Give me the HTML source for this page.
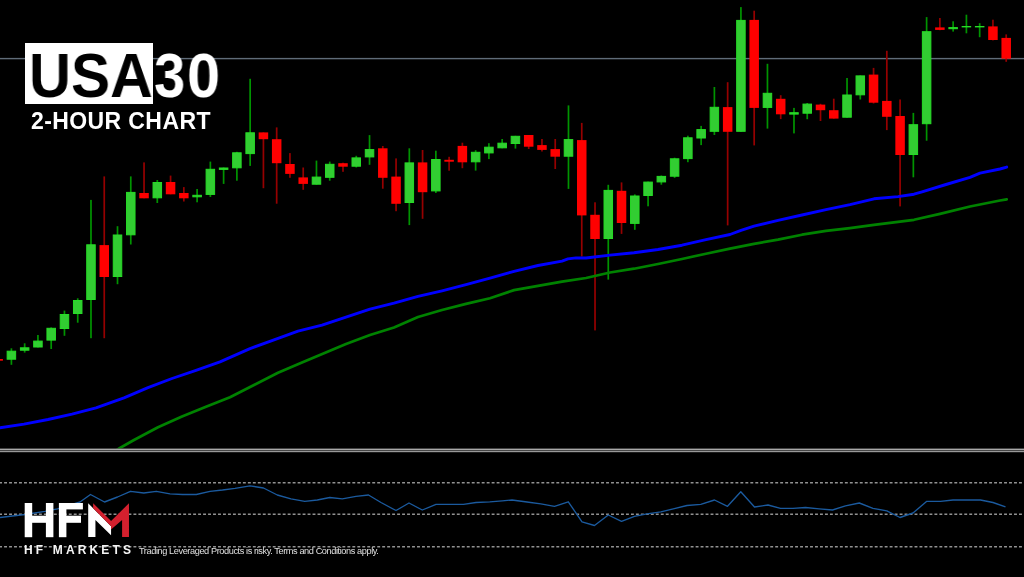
<!DOCTYPE html>
<html><head><meta charset="utf-8"><style>
html,body{margin:0;padding:0;background:#000;}
body{width:1024px;height:577px;position:relative;overflow:hidden;font-family:"Liberation Sans",sans-serif;}
.t{position:absolute;white-space:nowrap;font-weight:bold;line-height:1;will-change:transform;}
</style></head><body>
<svg width="1024" height="577" viewBox="0 0 1024 577" style="position:absolute;left:0;top:0">
<defs><clipPath id="main"><rect x="0" y="0" width="1024" height="448.5"/></clipPath></defs>
<rect x="0" y="57.9" width="1024" height="1.4" fill="#5f6b78"/>
<g clip-path="url(#main)">
<rect x="-2.71" y="357.5" width="1.7" height="4.5" fill="#960000"/>
<rect x="10.55" y="348.3" width="1.7" height="16.5" fill="#009400"/>
<rect x="23.81" y="343.3" width="1.7" height="9.3" fill="#009400"/>
<rect x="37.08" y="335.0" width="1.7" height="12.5" fill="#009400"/>
<rect x="50.34" y="327.4" width="1.7" height="21.6" fill="#009400"/>
<rect x="63.61" y="310.6" width="1.7" height="25.2" fill="#009400"/>
<rect x="76.87" y="298.3" width="1.7" height="24.4" fill="#009400"/>
<rect x="90.13" y="199.9" width="1.7" height="138.3" fill="#009400"/>
<rect x="103.40" y="176.4" width="1.7" height="161.8" fill="#960000"/>
<rect x="116.66" y="226.2" width="1.7" height="58.0" fill="#009400"/>
<rect x="129.93" y="176.4" width="1.7" height="68.1" fill="#009400"/>
<rect x="143.19" y="162.4" width="1.7" height="35.9" fill="#960000"/>
<rect x="156.45" y="180.0" width="1.7" height="23.0" fill="#009400"/>
<rect x="169.72" y="175.6" width="1.7" height="18.7" fill="#960000"/>
<rect x="182.98" y="187.1" width="1.7" height="14.4" fill="#960000"/>
<rect x="196.25" y="189.0" width="1.7" height="13.3" fill="#009400"/>
<rect x="209.51" y="161.6" width="1.7" height="35.4" fill="#009400"/>
<rect x="222.77" y="167.5" width="1.7" height="16.4" fill="#009400"/>
<rect x="236.04" y="151.8" width="1.7" height="28.9" fill="#009400"/>
<rect x="249.30" y="78.8" width="1.7" height="87.1" fill="#009400"/>
<rect x="262.57" y="132.4" width="1.7" height="55.8" fill="#960000"/>
<rect x="275.83" y="127.4" width="1.7" height="76.3" fill="#960000"/>
<rect x="289.09" y="153.1" width="1.7" height="24.7" fill="#960000"/>
<rect x="302.36" y="167.5" width="1.7" height="22.3" fill="#960000"/>
<rect x="315.62" y="160.6" width="1.7" height="24.1" fill="#009400"/>
<rect x="328.89" y="161.6" width="1.7" height="19.1" fill="#009400"/>
<rect x="342.15" y="162.7" width="1.7" height="9.1" fill="#960000"/>
<rect x="355.41" y="155.8" width="1.7" height="11.7" fill="#009400"/>
<rect x="368.68" y="135.1" width="1.7" height="29.7" fill="#009400"/>
<rect x="381.94" y="146.0" width="1.7" height="42.7" fill="#960000"/>
<rect x="395.21" y="158.4" width="1.7" height="52.8" fill="#960000"/>
<rect x="408.47" y="148.3" width="1.7" height="76.8" fill="#009400"/>
<rect x="421.73" y="150.0" width="1.7" height="68.8" fill="#960000"/>
<rect x="435.00" y="150.7" width="1.7" height="42.3" fill="#009400"/>
<rect x="448.26" y="156.8" width="1.7" height="13.9" fill="#960000"/>
<rect x="461.53" y="142.7" width="1.7" height="25.5" fill="#960000"/>
<rect x="474.79" y="150.2" width="1.7" height="20.4" fill="#009400"/>
<rect x="488.05" y="143.2" width="1.7" height="15.9" fill="#009400"/>
<rect x="501.32" y="139.0" width="1.7" height="9.3" fill="#009400"/>
<rect x="514.58" y="135.8" width="1.7" height="12.8" fill="#009400"/>
<rect x="527.85" y="135.0" width="1.7" height="14.0" fill="#960000"/>
<rect x="541.11" y="139.0" width="1.7" height="12.5" fill="#960000"/>
<rect x="554.37" y="139.0" width="1.7" height="30.0" fill="#960000"/>
<rect x="567.64" y="105.4" width="1.7" height="83.5" fill="#009400"/>
<rect x="580.90" y="122.9" width="1.7" height="133.6" fill="#960000"/>
<rect x="594.17" y="202.3" width="1.7" height="128.1" fill="#960000"/>
<rect x="607.43" y="184.8" width="1.7" height="94.8" fill="#009400"/>
<rect x="620.69" y="182.4" width="1.7" height="51.5" fill="#960000"/>
<rect x="633.96" y="194.4" width="1.7" height="35.4" fill="#009400"/>
<rect x="647.22" y="181.6" width="1.7" height="24.7" fill="#009400"/>
<rect x="660.49" y="175.5" width="1.7" height="9.2" fill="#009400"/>
<rect x="673.75" y="157.7" width="1.7" height="20.2" fill="#009400"/>
<rect x="687.01" y="135.7" width="1.7" height="26.5" fill="#009400"/>
<rect x="700.28" y="125.9" width="1.7" height="19.2" fill="#009400"/>
<rect x="713.54" y="87.0" width="1.7" height="48.0" fill="#009400"/>
<rect x="726.81" y="82.2" width="1.7" height="143.2" fill="#960000"/>
<rect x="740.07" y="7.1" width="1.7" height="124.7" fill="#009400"/>
<rect x="753.33" y="10.7" width="1.7" height="134.7" fill="#960000"/>
<rect x="766.60" y="63.8" width="1.7" height="64.8" fill="#009400"/>
<rect x="779.86" y="95.2" width="1.7" height="23.9" fill="#960000"/>
<rect x="793.13" y="107.9" width="1.7" height="25.5" fill="#009400"/>
<rect x="806.39" y="103.0" width="1.7" height="16.2" fill="#009400"/>
<rect x="819.65" y="103.8" width="1.7" height="17.2" fill="#960000"/>
<rect x="832.92" y="98.7" width="1.7" height="19.9" fill="#960000"/>
<rect x="846.18" y="78.0" width="1.7" height="39.7" fill="#009400"/>
<rect x="859.45" y="75.4" width="1.7" height="24.1" fill="#009400"/>
<rect x="872.71" y="67.9" width="1.7" height="35.6" fill="#960000"/>
<rect x="885.97" y="50.8" width="1.7" height="79.3" fill="#960000"/>
<rect x="899.24" y="99.5" width="1.7" height="106.9" fill="#960000"/>
<rect x="912.50" y="112.9" width="1.7" height="64.4" fill="#009400"/>
<rect x="925.77" y="17.1" width="1.7" height="123.6" fill="#009400"/>
<rect x="939.03" y="18.0" width="1.7" height="12.2" fill="#960000"/>
<rect x="952.29" y="21.3" width="1.7" height="10.3" fill="#009400"/>
<rect x="965.56" y="14.7" width="1.7" height="18.6" fill="#009400"/>
<rect x="978.82" y="23.2" width="1.7" height="14.0" fill="#009400"/>
<rect x="992.09" y="19.7" width="1.7" height="20.7" fill="#960000"/>
<rect x="1005.35" y="34.4" width="1.7" height="27.4" fill="#960000"/>
<rect x="-6.61" y="359.0" width="9.5" height="1.7" fill="#ff0000"/>
<rect x="7.15" y="351.2" width="8.5" height="8.0" fill="#32cd32" stroke="#26dc26" stroke-width="1"/>
<rect x="20.41" y="347.8" width="8.5" height="2.4" fill="#32cd32" stroke="#26dc26" stroke-width="1"/>
<rect x="33.68" y="341.1" width="8.5" height="5.9" fill="#32cd32" stroke="#26dc26" stroke-width="1"/>
<rect x="46.94" y="328.3" width="8.5" height="11.8" fill="#32cd32" stroke="#26dc26" stroke-width="1"/>
<rect x="60.21" y="314.5" width="8.5" height="14.0" fill="#32cd32" stroke="#26dc26" stroke-width="1"/>
<rect x="73.47" y="300.5" width="8.5" height="13.0" fill="#32cd32" stroke="#26dc26" stroke-width="1"/>
<rect x="86.73" y="244.8" width="8.5" height="54.7" fill="#32cd32" stroke="#26dc26" stroke-width="1"/>
<rect x="99.50" y="245.1" width="9.5" height="31.9" fill="#ff0000"/>
<rect x="113.26" y="235.0" width="8.5" height="41.5" fill="#32cd32" stroke="#26dc26" stroke-width="1"/>
<rect x="126.53" y="192.4" width="8.5" height="42.4" fill="#32cd32" stroke="#26dc26" stroke-width="1"/>
<rect x="139.29" y="193.0" width="9.5" height="5.3" fill="#ff0000"/>
<rect x="153.05" y="182.5" width="8.5" height="15.3" fill="#32cd32" stroke="#26dc26" stroke-width="1"/>
<rect x="165.82" y="182.0" width="9.5" height="12.3" fill="#ff0000"/>
<rect x="179.08" y="193.0" width="9.5" height="5.3" fill="#ff0000"/>
<rect x="192.85" y="195.3" width="8.5" height="1.5" fill="#32cd32" stroke="#26dc26" stroke-width="1"/>
<rect x="206.11" y="169.3" width="8.5" height="25.1" fill="#32cd32" stroke="#26dc26" stroke-width="1"/>
<rect x="219.37" y="168.0" width="8.5" height="1.4" fill="#32cd32" stroke="#26dc26" stroke-width="1"/>
<rect x="232.64" y="152.8" width="8.5" height="15.0" fill="#32cd32" stroke="#26dc26" stroke-width="1"/>
<rect x="245.90" y="132.8" width="8.5" height="20.8" fill="#32cd32" stroke="#26dc26" stroke-width="1"/>
<rect x="258.67" y="132.4" width="9.5" height="6.8" fill="#ff0000"/>
<rect x="271.93" y="139.2" width="9.5" height="24.0" fill="#ff0000"/>
<rect x="285.19" y="164.0" width="9.5" height="9.9" fill="#ff0000"/>
<rect x="298.46" y="177.4" width="9.5" height="6.5" fill="#ff0000"/>
<rect x="312.22" y="177.1" width="8.5" height="7.1" fill="#32cd32" stroke="#26dc26" stroke-width="1"/>
<rect x="325.49" y="164.3" width="8.5" height="13.0" fill="#32cd32" stroke="#26dc26" stroke-width="1"/>
<rect x="338.25" y="163.2" width="9.5" height="3.5" fill="#ff0000"/>
<rect x="352.01" y="157.9" width="8.5" height="8.3" fill="#32cd32" stroke="#26dc26" stroke-width="1"/>
<rect x="365.28" y="149.6" width="8.5" height="7.3" fill="#32cd32" stroke="#26dc26" stroke-width="1"/>
<rect x="378.04" y="148.3" width="9.5" height="29.5" fill="#ff0000"/>
<rect x="391.31" y="176.6" width="9.5" height="27.2" fill="#ff0000"/>
<rect x="405.07" y="162.9" width="8.5" height="39.6" fill="#32cd32" stroke="#26dc26" stroke-width="1"/>
<rect x="417.83" y="162.4" width="9.5" height="29.8" fill="#ff0000"/>
<rect x="431.60" y="159.5" width="8.5" height="31.4" fill="#32cd32" stroke="#26dc26" stroke-width="1"/>
<rect x="444.36" y="159.8" width="9.5" height="1.9" fill="#ff0000"/>
<rect x="457.63" y="145.9" width="9.5" height="16.4" fill="#ff0000"/>
<rect x="471.39" y="152.3" width="8.5" height="9.5" fill="#32cd32" stroke="#26dc26" stroke-width="1"/>
<rect x="484.65" y="147.2" width="8.5" height="5.7" fill="#32cd32" stroke="#26dc26" stroke-width="1"/>
<rect x="497.92" y="143.2" width="8.5" height="4.6" fill="#32cd32" stroke="#26dc26" stroke-width="1"/>
<rect x="511.18" y="136.3" width="8.5" height="7.2" fill="#32cd32" stroke="#26dc26" stroke-width="1"/>
<rect x="523.95" y="135.0" width="9.5" height="11.7" fill="#ff0000"/>
<rect x="537.21" y="145.1" width="9.5" height="4.8" fill="#ff0000"/>
<rect x="550.47" y="149.1" width="9.5" height="7.6" fill="#ff0000"/>
<rect x="564.24" y="139.6" width="8.5" height="16.6" fill="#32cd32" stroke="#26dc26" stroke-width="1"/>
<rect x="577.00" y="140.1" width="9.5" height="75.3" fill="#ff0000"/>
<rect x="590.27" y="214.8" width="9.5" height="24.2" fill="#ff0000"/>
<rect x="604.03" y="190.4" width="8.5" height="48.1" fill="#32cd32" stroke="#26dc26" stroke-width="1"/>
<rect x="616.79" y="190.8" width="9.5" height="32.2" fill="#ff0000"/>
<rect x="630.56" y="196.0" width="8.5" height="27.4" fill="#32cd32" stroke="#26dc26" stroke-width="1"/>
<rect x="643.82" y="182.1" width="8.5" height="13.4" fill="#32cd32" stroke="#26dc26" stroke-width="1"/>
<rect x="657.09" y="176.4" width="8.5" height="5.5" fill="#32cd32" stroke="#26dc26" stroke-width="1"/>
<rect x="670.35" y="158.8" width="8.5" height="17.4" fill="#32cd32" stroke="#26dc26" stroke-width="1"/>
<rect x="683.61" y="137.8" width="8.5" height="20.8" fill="#32cd32" stroke="#26dc26" stroke-width="1"/>
<rect x="696.88" y="129.6" width="8.5" height="8.4" fill="#32cd32" stroke="#26dc26" stroke-width="1"/>
<rect x="710.14" y="107.3" width="8.5" height="24.0" fill="#32cd32" stroke="#26dc26" stroke-width="1"/>
<rect x="722.91" y="107.1" width="9.5" height="24.7" fill="#ff0000"/>
<rect x="736.67" y="20.4" width="8.5" height="110.9" fill="#32cd32" stroke="#26dc26" stroke-width="1"/>
<rect x="749.43" y="19.9" width="9.5" height="88.0" fill="#ff0000"/>
<rect x="763.20" y="93.3" width="8.5" height="14.1" fill="#32cd32" stroke="#26dc26" stroke-width="1"/>
<rect x="775.96" y="98.8" width="9.5" height="15.5" fill="#ff0000"/>
<rect x="789.73" y="112.7" width="8.5" height="1.4" fill="#32cd32" stroke="#26dc26" stroke-width="1"/>
<rect x="802.99" y="104.1" width="8.5" height="9.1" fill="#32cd32" stroke="#26dc26" stroke-width="1"/>
<rect x="815.75" y="104.6" width="9.5" height="5.6" fill="#ff0000"/>
<rect x="829.02" y="110.2" width="9.5" height="8.4" fill="#ff0000"/>
<rect x="842.78" y="95.0" width="8.5" height="22.2" fill="#32cd32" stroke="#26dc26" stroke-width="1"/>
<rect x="856.05" y="75.9" width="8.5" height="18.9" fill="#32cd32" stroke="#26dc26" stroke-width="1"/>
<rect x="868.81" y="74.6" width="9.5" height="28.1" fill="#ff0000"/>
<rect x="882.07" y="100.9" width="9.5" height="15.9" fill="#ff0000"/>
<rect x="895.34" y="116.0" width="9.5" height="39.0" fill="#ff0000"/>
<rect x="909.10" y="124.7" width="8.5" height="29.8" fill="#32cd32" stroke="#26dc26" stroke-width="1"/>
<rect x="922.37" y="31.7" width="8.5" height="92.0" fill="#32cd32" stroke="#26dc26" stroke-width="1"/>
<rect x="935.13" y="27.4" width="9.5" height="2.5" fill="#ff0000"/>
<rect x="948.89" y="27.6" width="8.5" height="1.1" fill="#32cd32" stroke="#26dc26" stroke-width="1"/>
<rect x="962.16" y="26.5" width="8.5" height="0.4" fill="#32cd32" stroke="#26dc26" stroke-width="1"/>
<rect x="975.42" y="26.5" width="8.5" height="0.4" fill="#32cd32" stroke="#26dc26" stroke-width="1"/>
<rect x="988.19" y="26.4" width="9.5" height="13.6" fill="#ff0000"/>
<rect x="1001.45" y="37.9" width="9.5" height="20.8" fill="#ff0000"/>
<polyline points="112.0,453.0 120.0,448.0 134.0,440.0 158.0,427.3 182.0,416.6 206.0,406.8 230.0,397.2 254.0,385.0 278.0,372.8 302.0,362.5 346.0,343.9 370.0,335.0 394.0,327.5 418.0,317.0 442.0,310.0 466.0,303.9 490.0,298.3 514.0,290.1 538.0,285.9 562.0,281.7 586.0,278.0 610.0,272.5 634.0,268.7 658.0,264.0 682.0,259.0 706.0,253.7 730.0,248.6 754.0,243.9 778.0,239.6 802.0,234.7 826.0,230.9 850.0,228.1 874.0,224.8 914.0,219.8 940.0,213.9 970.0,206.5 1000.0,200.5 1006.7,199.3" fill="none" stroke="#008200" stroke-width="2.7" stroke-linejoin="round" stroke-linecap="round"/>
<polyline points="0.0,427.7 24.0,424.1 48.0,419.5 72.0,414.2 96.0,407.9 124.0,397.8 148.0,387.7 172.0,378.5 196.0,370.4 220.0,361.8 250.0,348.6 274.0,339.8 298.0,331.2 322.0,325.1 346.0,317.2 370.0,309.2 394.0,303.2 418.0,296.4 442.0,290.8 466.0,284.7 490.0,278.2 514.0,271.4 538.0,265.5 562.0,261.1 568.0,258.9 576.0,257.9 586.0,258.0 610.0,255.1 634.0,252.8 658.0,249.5 682.0,245.2 706.0,239.7 730.0,234.5 741.0,230.3 754.0,226.1 778.0,220.4 802.0,215.0 826.0,209.6 850.0,204.7 874.0,198.8 898.0,196.6 914.0,194.2 922.0,191.9 946.0,184.5 970.0,177.4 980.0,173.2 1000.0,169.0 1006.7,167.1" fill="none" stroke="#0000ff" stroke-width="2.9" stroke-linejoin="round" stroke-linecap="round"/>
</g>
<rect x="0" y="448.6" width="1024" height="1.4" fill="#a8a8a8"/>
<rect x="0" y="450.0" width="1024" height="0.8" fill="#404040"/>
<rect x="0" y="450.8" width="1024" height="1.4" fill="#989898"/>
<g stroke="#929292" stroke-width="1.5" stroke-dasharray="2.9 2.075" stroke-dashoffset="0.875">
<line x1="0" y1="482.7" x2="1022" y2="482.7"/>
<line x1="0" y1="514.3" x2="1022" y2="514.3"/>
<line x1="0" y1="546.8" x2="1022" y2="546.8"/>
</g>
<polyline points="0.0,517.5 25.0,514.5 45.0,511.3 57.5,508.8 80.0,502.0 90.5,494.5 104.5,502.0 117.5,497.0 130.5,491.3 143.8,493.0 156.3,491.3 170.0,493.8 182.5,494.5 196.3,494.5 210.0,491.3 222.5,490.0 235.0,488.3 250.0,485.8 263.5,488.0 277.3,495.0 291.0,498.8 304.8,501.3 317.3,500.0 329.8,497.5 342.3,498.8 356.0,496.3 368.5,495.0 381.0,502.5 396.0,510.5 409.0,503.0 422.3,510.0 436.0,504.3 449.8,504.3 463.5,504.3 476.0,502.5 489.8,501.8 502.3,500.8 512.0,500.0 527.0,502.0 540.8,503.8 554.5,506.3 568.3,501.8 582.0,521.8 594.5,525.5 608.3,515.0 621.5,521.3 634.5,516.3 647.0,513.8 660.8,511.8 673.3,508.8 687.0,505.5 700.8,504.3 714.5,500.0 727.5,506.3 740.8,491.8 754.5,507.0 768.0,505.0 780.5,508.3 793.0,508.3 805.5,507.5 819.3,508.8 832.5,510.0 845.5,505.8 859.3,503.0 873.0,508.3 886.8,510.8 900.0,517.5 913.0,513.0 926.8,501.3 940.5,501.3 953.0,500.0 966.8,500.0 980.5,500.0 993.0,502.5 1005.5,506.8" fill="none" stroke="#1b5a9e" stroke-width="1.35" stroke-linejoin="round"/>
<!-- title -->
<rect x="25" y="43" width="128" height="61" fill="#ffffff"/>
<!-- HFM logo -->
<g fill="#ffffff">
<rect x="24.7" y="503" width="7.5" height="34.2"/>
<rect x="45.9" y="503" width="7.5" height="34.2"/>
<rect x="32" y="515.7" width="14" height="7.1"/>
<rect x="58.9" y="503" width="7.5" height="34.2"/>
<rect x="66" y="503" width="16.9" height="6.4"/>
<rect x="66" y="515.7" width="15" height="7.1"/>
<polygon points="88.2,503.3 111.06,526.2 111.06,535.3 95.43,520.1 95.43,536.9 88.2,536.9"/>
</g>
<polygon fill="#d4202e" points="93.15,503.3 111.06,520.9 128.97,503.3 128.97,536.9 122.1,536.9 122.1,520.1 111.06,529.6 111.06,526.2 93.15,508.3"/>
</svg>
<div class="t" style="left:28.5px;top:44px;font-size:63px;color:#000;transform:scaleX(.92);transform-origin:0 0">U</div>
<div class="t" style="left:71.3px;top:44px;font-size:63px;color:#000;transform:scaleX(.93);transform-origin:0 0">S</div>
<div class="t" style="left:109.9px;top:44px;font-size:63px;color:#000;transform:scaleX(.94);transform-origin:0 0">A</div>
<div class="t" style="left:153.6px;top:44px;font-size:63px;color:#fff;transform:scaleX(.89);transform-origin:0 0">3</div>
<div class="t" style="left:187.3px;top:44px;font-size:63px;color:#fff;transform:scaleX(.945);transform-origin:0 0">0</div>
<div class="t" id="sub" style="left:31px;top:110px;font-size:23px;color:#fff;letter-spacing:0.4px">2-HOUR CHART</div>
<div class="t" id="hfm" style="left:23.7px;top:544.3px;font-size:12px;color:#f4f4f4;letter-spacing:3.15px">HF MARKETS</div>
<div class="t" id="disc" style="left:139px;top:546.6px;font-size:9.2px;font-weight:normal;color:#e0e0e0;letter-spacing:-0.41px">Trading Leveraged Products is risky. Terms and Conditions apply.</div>
</body></html>
